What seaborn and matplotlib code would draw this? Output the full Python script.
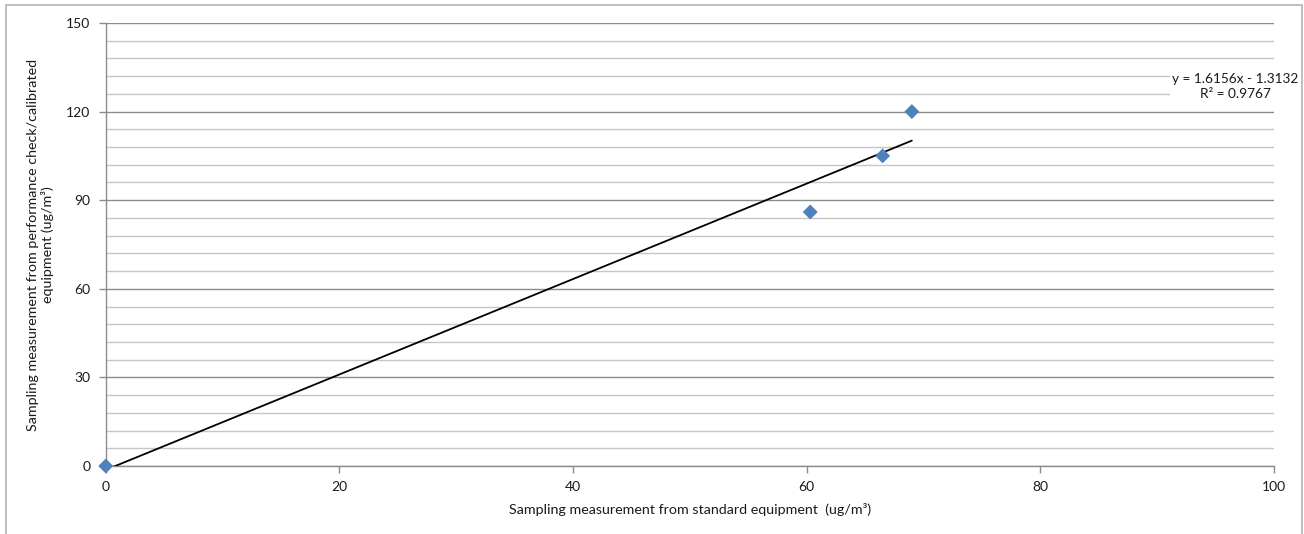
import numpy as np
import pandas as pd
import matplotlib
matplotlib.use("Agg")
import matplotlib.pyplot as plt
from matplotlib.patches import Rectangle
from matplotlib.ticker import MultipleLocator
import seaborn as sns

# Paired readings (ug/m3)
standard = [0.0, 60.3, 66.5, 69.0]
calibrated = [0.0, 86.0, 105.0, 120.0]

# Linear trendline parameters
slope = 1.6156
intercept = -1.3132
r_squared = 0.9767

x_ticks = [0, 20, 40, 60, 80, 100]
y_ticks = [0, 30, 60, 90, 120, 150]

df = pd.DataFrame({"standard": standard, "calibrated": calibrated})

sns.set_theme(style="white")
plt.rcParams["font.family"] = ["Lato", "DejaVu Sans"]

fig = plt.figure(figsize=(13.04, 5.34), dpi=100)
ax = fig.add_axes([0.0811, 0.1273, 0.977 - 0.0811, 0.957 - 0.1273])

# outer chart frame
fig.patches.append(Rectangle((5.5 / 1304, -0.05), (1302 - 5.5) / 1304, 1.05 - 4.5 / 534,
                             transform=fig.transFigure, fill=False,
                             edgecolor="#b3b3b3", linewidth=1.2, zorder=0))

ax.set_xlim(0, 100)
ax.set_ylim(0, 150)
ax.set_xticks(x_ticks)
ax.set_yticks(y_ticks)
ax.yaxis.set_minor_locator(MultipleLocator(6))

ax.grid(axis="y", which="major", color="#8c8c8c", linewidth=1.0, zorder=0)
ax.grid(axis="y", which="minor", color="#c6c6c6", linewidth=1.0, zorder=0)
ax.grid(axis="x", which="both", visible=False)

for side in ["top", "right"]:
    ax.spines[side].set_visible(False)
for side in ["left", "bottom"]:
    ax.spines[side].set_color("#8c8c8c")
    ax.spines[side].set_linewidth(1.0)

ax.tick_params(axis="both", which="major", direction="out", length=5, width=1.0,
               color="#8c8c8c", labelsize=10, labelcolor="#1a1a1a", pad=6)
ax.tick_params(axis="both", which="minor", length=0)
ax.tick_params(axis="x", bottom=True)
ax.tick_params(axis="y", left=True)

# trendline over the range of the standard readings
xs = np.array([0.0, max(standard)])
trend = pd.DataFrame({"x": xs, "y": slope * xs + intercept})
sns.lineplot(data=trend, x="x", y="y", ax=ax, color="black", linewidth=1.3, zorder=3)

sns.scatterplot(data=df, x="standard", y="calibrated", ax=ax, marker="D", s=58,
                color="#4F81BD", edgecolor="none", zorder=4, clip_on=False)

ax.text(96.7, 128.5, f"y = {slope:.4f}x - {abs(intercept):.4f}\nR\u00b2 = {r_squared:.4f}",
        ha="center", va="center", fontsize=9.8, color="#1a1a1a", linespacing=1.25,
        bbox=dict(facecolor="white", edgecolor="none", pad=2), zorder=5, clip_on=False)

ax.set_xlabel("Sampling measurement from standard equipment  (ug/m\u00b3)",
              fontsize=10.3, color="#1a1a1a", labelpad=7)
ax.set_ylabel("Sampling measurement from performance check/calibrated\nequipment (ug/m\u00b3)",
              fontsize=10.3, color="#1a1a1a", labelpad=9, linespacing=1.15)

fig.savefig("out.png", dpi=100)
